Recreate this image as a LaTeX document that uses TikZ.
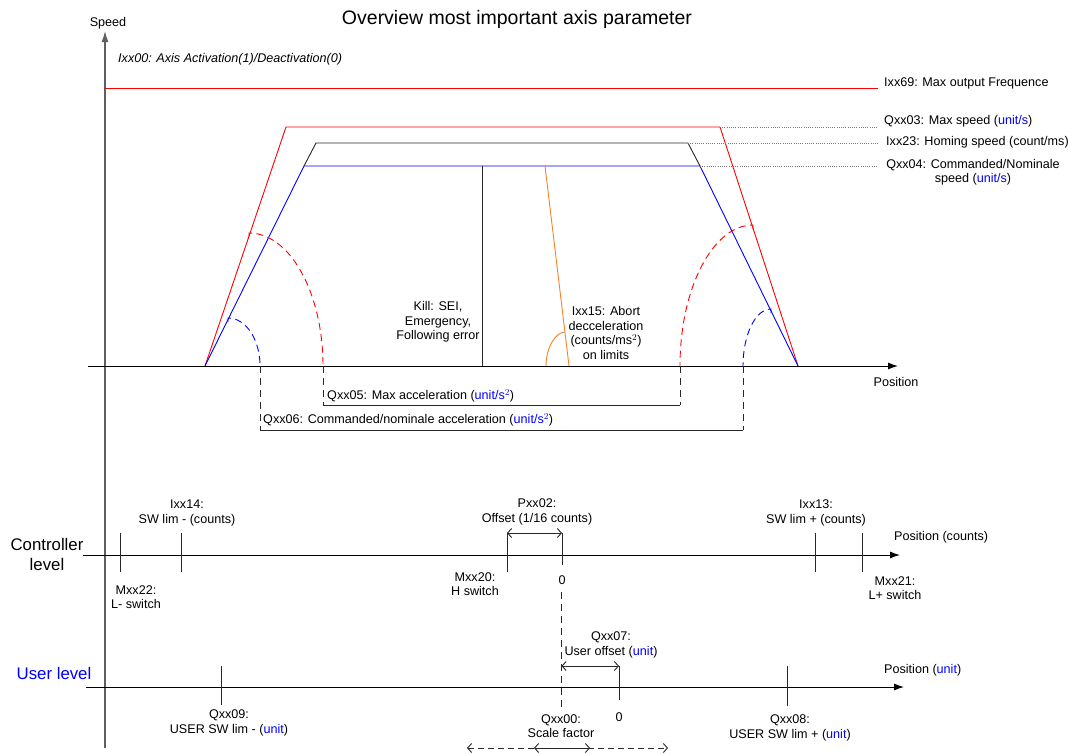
\documentclass[tikz,border=0pt]{standalone}
\usepackage{fontspec}
\setmainfont{Liberation Sans}
\usetikzlibrary{arrows.meta}
\definecolor{axgray}{RGB}{95,95,95}
\definecolor{myred}{RGB}{255,0,0}
\definecolor{myblue}{RGB}{0,0,255}
\definecolor{myorange}{RGB}{245,130,40}
\definecolor{dotgray}{RGB}{120,120,120}
\definecolor{mydark}{RGB}{40,40,40}
\newcommand{\un}[1]{\textcolor{myblue}{#1}}
\begin{document}
\begin{tikzpicture}[x=1pt,y=-1pt,
  font=\fontsize{12.6}{14.5}\selectfont,
  lbl/.style={inner sep=0pt, align=center},
  bigfont/.style={font=\fontsize{16.8}{20}\selectfont},
  thinline/.style={line width=0.9pt},
  axisline/.style={line width=1.3pt, draw=axgray},
  posaxis/.style={line width=1pt, draw=black, -{Latex[length=10pt,width=7pt]}},
  dotline/.style={draw=dotgray, line width=0.9pt, dash pattern=on 1pt off 1.2pt},
  arcdash/.style={line width=0.9pt, dash pattern=on 7pt off 4.5pt},
  vdash/.style={line width=0.9pt, draw=mydark, dash pattern=on 7pt off 5pt},
  tickline/.style={line width=0.9pt, draw=mydark},
  dimarrow/.style={line width=0.9pt, draw=mydark, {Straight Barb[length=4pt,width=9pt]}-{Straight Barb[length=4pt,width=9pt]}}
]
\useasboundingbox (0,0) rectangle (1068,753);

% ---------- title and speed axis ----------
\node[lbl, font=\fontsize{19.5}{22}\selectfont] (title) at (517,19) {Overview most important axis parameter};
\coordinate (sb) at (105,748);
\coordinate (st) at (105,31);
\draw[axisline,-{Latex[length=11pt,width=7pt]}] (sb) -- (st);
\node[lbl] (speed) at (108,23) {Speed};
\node[lbl, anchor=west] (ixx00) at (118,59) {\itshape Ixx00: Axis Activation(1)/Deactivation(0)};

% ---------- position axis ----------
\coordinate (pa) at (88,366);
\coordinate (pb) at (898,366);
\draw[posaxis] (pa) -- (pb);
\node[lbl] (position) at (896,382) {Position};

% ---------- max output frequence ----------
\coordinate (f1) at (105,88);
\coordinate (f2) at (878,88);
\draw[thinline, myred] (f1) -- (f2);
\node[lbl, anchor=west] (ixx69) at (884,83) {Ixx69: Max output Frequence};

% ---------- profiles ----------
\coordinate (s0) at (205,366);
\coordinate (e0) at (798,366);
\coordinate (r1) at (286,127);
\coordinate (r2) at (720,127);
\coordinate (k1) at (316,143);
\coordinate (k2) at (688,143);
\coordinate (b1) at (304,166);
\coordinate (b2) at (700,166);
\draw[thinline, myred] (s0) -- (r1) -- (r2) -- (e0);
\draw[thinline, myblue] (s0) -- (b1) -- (b2) -- (e0);
\draw[thinline, mydark] (b1) -- (k1) -- (k2) -- (b2);

% dotted leaders
\coordinate (d3) at (878,127);
\coordinate (d23) at (878,143);
\coordinate (d4) at (878,166);
\draw[dotline] (r2) -- (d3);
\draw[dotline] (k2) -- (d23);
\draw[dotline] (b2) -- (d4);
\node[lbl, anchor=west] (qxx03) at (884,121) {Qxx03: Max speed (\un{unit/s})};
\node[lbl, anchor=west] (ixx23) at (886,142) {Ixx23: Homing speed (count/ms)};
\node[lbl] (qxx04) at (973,172) {Qxx04: Commanded/Nominale\\speed (\un{unit/s})};

% kill line
\coordinate (kt) at (482,166);
\coordinate (kb) at (482,366);
\draw[thinline, mydark] (kt) -- (kb);
\node[lbl] (kill) at (438,322) {Kill: SEI,\\Emergency,\\Following error};

% abort deceleration
\coordinate (ot) at (545,166);
\coordinate (ob) at (569,366);
\draw[thinline, myorange] (ot) -- (ob);
\draw[thinline, myorange] (546,366) .. controls (546,347) and (556,332) .. (565,332);
\node[lbl] (ixx15) at (606,333) {Ixx15: Abort\\decceleration\\(counts/ms$^{2}$)\\on limits};

% acceleration arcs
\draw[arcdash, myred] (249,237) -- (249,233) .. controls (290,233) and (323,293) .. (323,366);
\draw[arcdash, myblue] (228,322) -- (228,318) .. controls (246,318) and (260,339.5) .. (260,366);
\draw[arcdash, myred] (753,229) -- (753,225) .. controls (713,225) and (680,288) .. (680,366);
\draw[arcdash, myblue] (771,313) -- (771,309) .. controls (755.5,309) and (743,334.5) .. (743,366);

% acceleration dimension brackets
\coordinate (a1) at (323,366);
\coordinate (a2) at (680,366);
\coordinate (a3) at (260,366);
\coordinate (a4) at (743,366);
\coordinate (a1b) at (323,405);
\coordinate (a2b) at (680,405);
\coordinate (a3b) at (260,430);
\coordinate (a4b) at (743,430);
\draw[vdash] (a1) -- (a1b);
\draw[vdash] (a2) -- (a2b);
\draw[vdash] (a3) -- (a3b);
\draw[vdash] (a4) -- (a4b);
\draw[tickline] (a1b) -- (a2b);
\draw[tickline] (a3b) -- (a4b);
\node[lbl, anchor=west] (qxx05) at (327,396) {Qxx05: Max acceleration (\un{unit/s$^{2}$})};
\node[lbl, anchor=west] (qxx06) at (263,420) {Qxx06: Commanded/nominale acceleration (\un{unit/s$^{2}$})};

% ---------- controller level ----------
\node[lbl, bigfont] (ctrl) at (47,554) {Controller\\level};
\coordinate (ca) at (83,555);
\coordinate (cb) at (900,555);
\draw[posaxis] (ca) -- (cb);
\node[lbl, anchor=west] (poscounts) at (894,537) {Position (counts)};

\coordinate (t22a) at (120,533); \coordinate (t22b) at (120,572);
\coordinate (t14a) at (181,533); \coordinate (t14b) at (181,572);
\coordinate (t20a) at (507,533); \coordinate (t20b) at (507,572);
\coordinate (t0a) at (562,533);  \coordinate (t0b) at (562,565);
\coordinate (t13a) at (815,533); \coordinate (t13b) at (815,572);
\coordinate (t21a) at (862,533); \coordinate (t21b) at (862,572);
\foreach \a/\b in {t22a/t22b, t14a/t14b, t20a/t20b, t0a/t0b, t13a/t13b, t21a/t21b}
  \draw[tickline] (\a) -- (\b);

\node[lbl] (ixx14) at (187,513) {Ixx14:\\SW lim - (counts)};
\node[lbl] (mxx22) at (136,597) {Mxx22:\\L- switch};
\node[lbl] (pxx02) at (537,512) {Pxx02:\\Offset (1/16 counts)};
\draw[dimarrow] (t20a) -- (t0a);
\node[lbl] (mxx20) at (475,584) {Mxx20:\\H switch};
\node[lbl] (zero1) at (562,580) {0};
\node[lbl] (ixx13) at (816,513) {Ixx13:\\SW lim + (counts)};
\node[lbl] (mxx21) at (895,588) {Mxx21:\\L+ switch};

% dashed zero reference
\coordinate (z1) at (561.5,592);
\coordinate (z2) at (561.5,707);
\draw[vdash] (z1) -- (z2);

% ---------- user level ----------
\node[lbl, bigfont, text=myblue] (user) at (54,673) {User level};
\coordinate (ua) at (86,687);
\coordinate (ub) at (904,687);
\draw[posaxis] (ua) -- (ub);
\node[lbl, anchor=west] (posunit) at (884,670) {Position (\un{unit})};

\coordinate (t09a) at (221,666); \coordinate (t09b) at (221,705);
\coordinate (t08a) at (787,666); \coordinate (t08b) at (787,706);
\coordinate (u0a) at (619,666);  \coordinate (u0b) at (619,700);
\coordinate (uz) at (561.5,666);
\draw[tickline] (t09a) -- (t09b);
\draw[tickline] (t08a) -- (t08b);
\draw[tickline] (u0a) -- (u0b);
\draw[dimarrow] (uz) -- (u0a);
\node[lbl] (qxx07) at (611,645) {Qxx07:\\User offset (\un{unit})};
\node[lbl] (zero2) at (619,717) {0};
\node[lbl] (qxx09) at (229,723) {Qxx09:\\USER SW lim - (\un{unit})};
\node[lbl] (qxx08) at (790,728) {Qxx08:\\USER SW lim + (\un{unit})};

% scale factor
\node[lbl] (qxx00) at (561,726) {Qxx00:\\Scale factor};
\coordinate (sf1) at (467,748);
\coordinate (sf2) at (668,748);
\coordinate (sf3) at (534,748);
\coordinate (sf4) at (590,748);
\draw[dimarrow, dash pattern=on 6pt off 4pt] (sf1) -- (sf2);
\draw[dimarrow] (sf3) -- (sf4);
\end{tikzpicture}
\end{document}
